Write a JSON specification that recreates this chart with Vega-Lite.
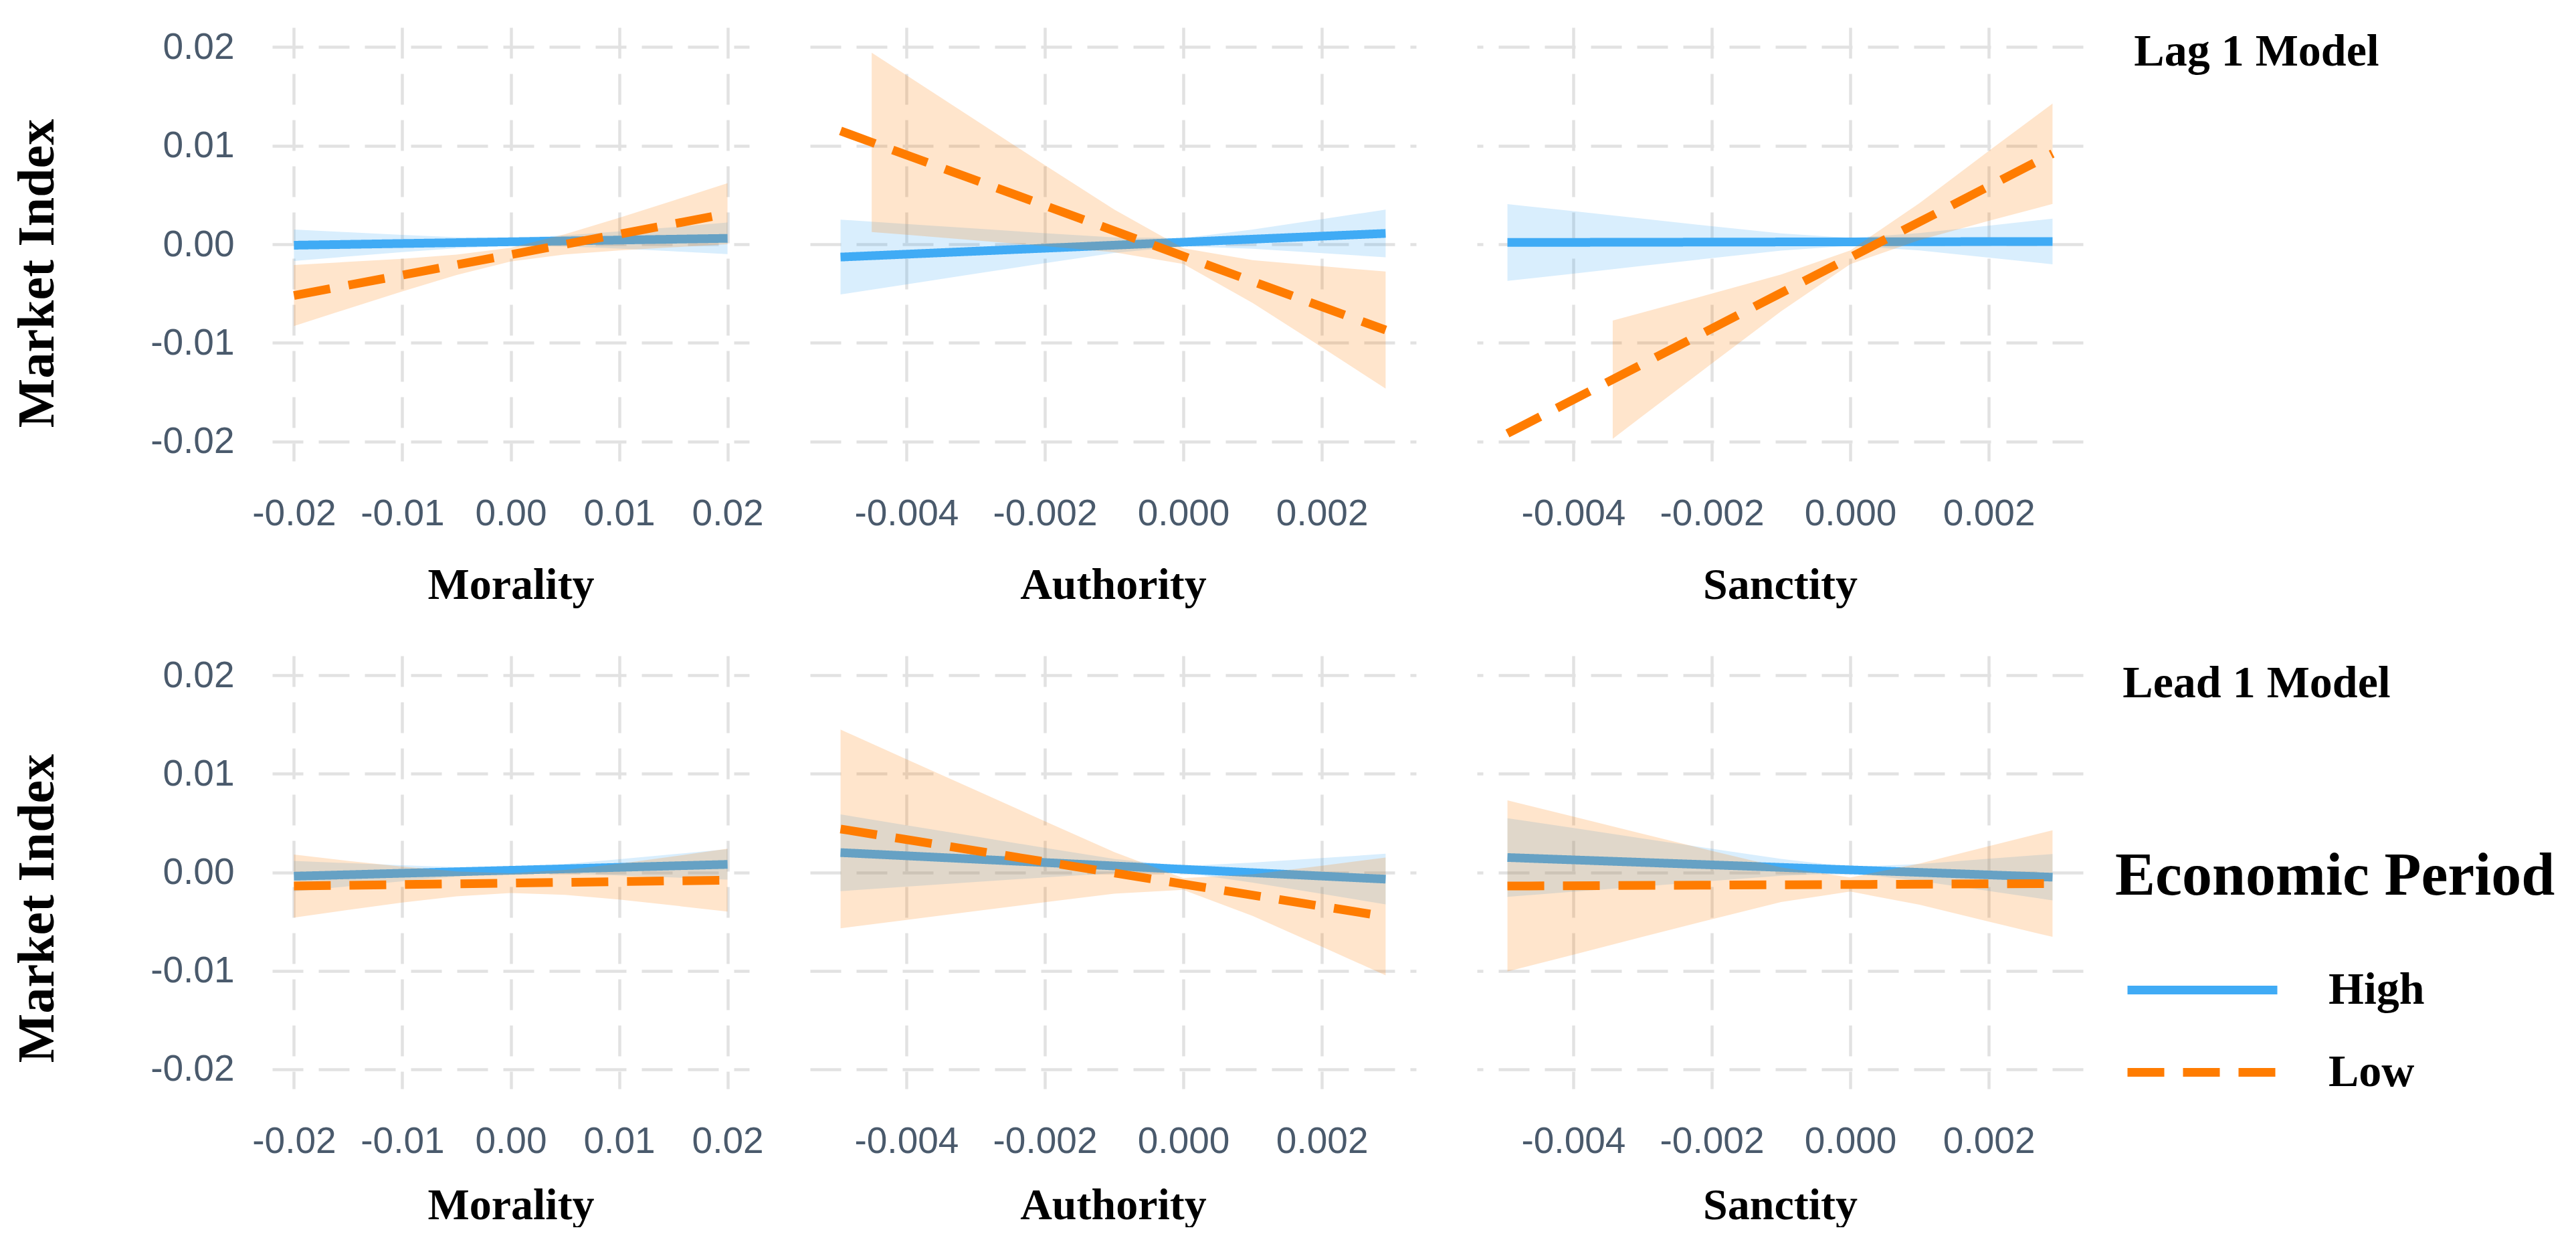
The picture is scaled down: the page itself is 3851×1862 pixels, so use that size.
{
"$schema": "https://vega.github.io/schema/vega-lite/v6.json",
"background": "white",
"padding": {"left": 17, "top": 41, "right": 0, "bottom": 0},
"config": {
 "view": {"stroke": null},
 "axis": {"domain": false, "ticks": false, "tickSize": 0, "grid": true, "gridColor": "#E2E2E2", "gridDash": [46, 23], "gridWidth": 4.5, "labelFont": "Liberation Sans", "labelFontSize": 55, "labelColor": "#4A5A6C", "labelOverlap": false, "labelFlush": false, "titleFont": "Liberation Serif", "titleFontWeight": "bold", "titleColor": "#000000"},
 "axisX": {"labelPadding": 52, "titleFontSize": 66, "titleBaseline": "alphabetic"},
 "axisY": {"labelPadding": 57, "titleFontSize": 78},
 "legend": {"direction": "vertical", "padding": 0, "titleFont": "Liberation Serif", "titleFontSize": 90, "titleFontWeight": "bold", "titleColor": "#000000", "titleLimit": 2000, "titlePadding": 89, "labelFont": "Liberation Serif", "labelFontSize": 68, "labelFontWeight": "bold", "labelColor": "#000000", "labelLimit": 1000, "symbolType": "M-4,0L4,0", "symbolSize": 3136, "symbolStrokeWidth": 13, "symbolOffset": 96, "labelOffset": 154, "rowPadding": 54}
},
"data": {"values": [
{"m":"Lag","v":"Morality","p":"High","k":"line","x":-0.02,"y":-0.0001},
{"m":"Lag","v":"Morality","p":"High","k":"line","x":0.02,"y":0.0006},
{"m":"Lag","v":"Morality","p":"Low","k":"line","x":-0.02,"y":-0.0052},
{"m":"Lag","v":"Morality","p":"Low","k":"line","x":0.02,"y":0.0031},
{"m":"Lag","v":"Authority","p":"High","k":"line","x":-0.00495,"y":-0.0013},
{"m":"Lag","v":"Authority","p":"High","k":"line","x":0.00292,"y":0.0011},
{"m":"Lag","v":"Authority","p":"Low","k":"line","x":-0.00495,"y":0.0115},
{"m":"Lag","v":"Authority","p":"Low","k":"line","x":0.00292,"y":-0.0087},
{"m":"Lag","v":"Sanctity","p":"High","k":"line","x":-0.00495,"y":0.00018},
{"m":"Lag","v":"Sanctity","p":"High","k":"line","x":0.00292,"y":0.00028},
{"m":"Lag","v":"Sanctity","p":"Low","k":"line","x":-0.00495,"y":-0.0192},
{"m":"Lag","v":"Sanctity","p":"Low","k":"line","x":0.00292,"y":0.0092},
{"m":"Lead","v":"Morality","p":"High","k":"line","x":-0.02,"y":-0.0004},
{"m":"Lead","v":"Morality","p":"High","k":"line","x":0.02,"y":0.0008},
{"m":"Lead","v":"Morality","p":"Low","k":"line","x":-0.02,"y":-0.0014},
{"m":"Lead","v":"Morality","p":"Low","k":"line","x":0.02,"y":-0.0008},
{"m":"Lead","v":"Authority","p":"High","k":"line","x":-0.00495,"y":0.002},
{"m":"Lead","v":"Authority","p":"High","k":"line","x":0.00292,"y":-0.0007},
{"m":"Lead","v":"Authority","p":"Low","k":"line","x":-0.00495,"y":0.0044},
{"m":"Lead","v":"Authority","p":"Low","k":"line","x":0.00292,"y":-0.0045},
{"m":"Lead","v":"Sanctity","p":"High","k":"line","x":-0.00495,"y":0.0015},
{"m":"Lead","v":"Sanctity","p":"High","k":"line","x":0.00292,"y":-0.0005},
{"m":"Lead","v":"Sanctity","p":"Low","k":"line","x":-0.00495,"y":-0.0014},
{"m":"Lead","v":"Sanctity","p":"Low","k":"line","x":0.00292,"y":-0.00115},

{"m":"Lag","v":"Morality","p":"High","k":"band","x":-0.02,"y":-0.0017,"y2":0.0015},
{"m":"Lag","v":"Morality","p":"High","k":"band","x":-0.015,"y":-0.00124,"y2":0.00122},
{"m":"Lag","v":"Morality","p":"High","k":"band","x":-0.01,"y":-0.00079,"y2":0.00095},
{"m":"Lag","v":"Morality","p":"High","k":"band","x":-0.005,"y":-0.0004,"y2":0.00072},
{"m":"Lag","v":"Morality","p":"High","k":"band","x":0,"y":-0.00015,"y2":0.00065},
{"m":"Lag","v":"Morality","p":"High","k":"band","x":0.005,"y":-0.00022,"y2":0.0009},
{"m":"Lag","v":"Morality","p":"High","k":"band","x":0.01,"y":-0.00044,"y2":0.0013},
{"m":"Lag","v":"Morality","p":"High","k":"band","x":0.015,"y":-0.00072,"y2":0.00174},
{"m":"Lag","v":"Morality","p":"High","k":"band","x":0.02,"y":-0.001,"y2":0.0022},

{"m":"Lag","v":"Morality","p":"Low","k":"band","x":-0.02,"y":-0.0083,"y2":-0.0021},
{"m":"Lag","v":"Morality","p":"Low","k":"band","x":-0.015,"y":-0.00653,"y2":-0.00179},
{"m":"Lag","v":"Morality","p":"Low","k":"band","x":-0.01,"y":-0.00479,"y2":-0.00147},
{"m":"Lag","v":"Morality","p":"Low","k":"band","x":-0.005,"y":-0.00312,"y2":-0.00106},
{"m":"Lag","v":"Morality","p":"Low","k":"band","x":0,"y":-0.00175,"y2":-0.00035},
{"m":"Lag","v":"Morality","p":"Low","k":"band","x":0.005,"y":-0.00104,"y2":0.00102},
{"m":"Lag","v":"Morality","p":"Low","k":"band","x":0.01,"y":-0.00063,"y2":0.00269},
{"m":"Lag","v":"Morality","p":"Low","k":"band","x":0.015,"y":-0.00031,"y2":0.00443},
{"m":"Lag","v":"Morality","p":"Low","k":"band","x":0.02,"y":0.0,"y2":0.0062},

{"m":"Lag","v":"Authority","p":"High","k":"band","x":-0.00495,"y":-0.0051,"y2":0.0025},
{"m":"Lag","v":"Authority","p":"High","k":"band","x":-0.004,"y":-0.00407,"y2":0.00205},
{"m":"Lag","v":"Authority","p":"High","k":"band","x":-0.003,"y":-0.00299,"y2":0.00159},
{"m":"Lag","v":"Authority","p":"High","k":"band","x":-0.002,"y":-0.00192,"y2":0.00112},
{"m":"Lag","v":"Authority","p":"High","k":"band","x":-0.001,"y":-0.00089,"y2":0.00069},
{"m":"Lag","v":"Authority","p":"High","k":"band","x":0,"y":-0.0002,"y2":0.00062},
{"m":"Lag","v":"Authority","p":"High","k":"band","x":0.001,"y":-0.00045,"y2":0.00149},
{"m":"Lag","v":"Authority","p":"High","k":"band","x":0.002,"y":-0.0009,"y2":0.00254},
{"m":"Lag","v":"Authority","p":"High","k":"band","x":0.00292,"y":-0.00132,"y2":0.00352},

{"m":"Lag","v":"Authority","p":"Low","k":"band","x":-0.0045,"y":0.00124,"y2":0.01944},
{"m":"Lag","v":"Authority","p":"Low","k":"band","x":-0.004,"y":0.00096,"y2":0.01716},
{"m":"Lag","v":"Authority","p":"Low","k":"band","x":-0.003,"y":0.00039,"y2":0.01259},
{"m":"Lag","v":"Authority","p":"Low","k":"band","x":-0.002,"y":-0.00019,"y2":0.00803},
{"m":"Lag","v":"Authority","p":"Low","k":"band","x":-0.001,"y":-0.00081,"y2":0.00353},
{"m":"Lag","v":"Authority","p":"Low","k":"band","x":0,"y":-0.00201,"y2":-0.00041},
{"m":"Lag","v":"Authority","p":"Low","k":"band","x":0.001,"y":-0.00595,"y2":-0.00161},
{"m":"Lag","v":"Authority","p":"Low","k":"band","x":0.002,"y":-0.01045,"y2":-0.00223},
{"m":"Lag","v":"Authority","p":"Low","k":"band","x":0.00292,"y":-0.01465,"y2":-0.00277},

{"m":"Lag","v":"Sanctity","p":"High","k":"band","x":-0.00495,"y":-0.00372,"y2":0.00408},
{"m":"Lag","v":"Sanctity","p":"High","k":"band","x":-0.004,"y":-0.00298,"y2":0.00336},
{"m":"Lag","v":"Sanctity","p":"High","k":"band","x":-0.003,"y":-0.00219,"y2":0.00259},
{"m":"Lag","v":"Sanctity","p":"High","k":"band","x":-0.002,"y":-0.00141,"y2":0.00183},
{"m":"Lag","v":"Sanctity","p":"High","k":"band","x":-0.001,"y":-0.00065,"y2":0.00111},
{"m":"Lag","v":"Sanctity","p":"High","k":"band","x":0,"y":-0.00016,"y2":0.00064},
{"m":"Lag","v":"Sanctity","p":"High","k":"band","x":0.001,"y":-0.00063,"y2":0.00113},
{"m":"Lag","v":"Sanctity","p":"High","k":"band","x":0.002,"y":-0.00135,"y2":0.00189},
{"m":"Lag","v":"Sanctity","p":"High","k":"band","x":0.00292,"y":-0.00203,"y2":0.00259},

{"m":"Lag","v":"Sanctity","p":"Low","k":"band","x":-0.00343,"y":-0.01974,"y2":-0.00774},
{"m":"Lag","v":"Sanctity","p":"Low","k":"band","x":-0.003,"y":-0.01744,"y2":-0.00692},
{"m":"Lag","v":"Sanctity","p":"Low","k":"band","x":-0.002,"y":-0.01211,"y2":-0.00501},
{"m":"Lag","v":"Sanctity","p":"Low","k":"band","x":-0.001,"y":-0.00681,"y2":-0.00307},
{"m":"Lag","v":"Sanctity","p":"Low","k":"band","x":0,"y":-0.00202,"y2":-0.00062},
{"m":"Lag","v":"Sanctity","p":"Low","k":"band","x":0.001,"y":0.00043,"y2":0.00417},
{"m":"Lag","v":"Sanctity","p":"Low","k":"band","x":0.002,"y":0.00237,"y2":0.00947},
{"m":"Lag","v":"Sanctity","p":"Low","k":"band","x":0.00292,"y":0.00409,"y2":0.01427},

{"m":"Lead","v":"Morality","p":"High","k":"band","x":-0.02,"y":-0.00195,"y2":0.00115},
{"m":"Lead","v":"Morality","p":"High","k":"band","x":-0.015,"y":-0.00143,"y2":0.00093},
{"m":"Lead","v":"Morality","p":"High","k":"band","x":-0.01,"y":-0.00092,"y2":0.00072},
{"m":"Lead","v":"Morality","p":"High","k":"band","x":-0.005,"y":-0.00043,"y2":0.00053},
{"m":"Lead","v":"Morality","p":"High","k":"band","x":0,"y":-0.0001,"y2":0.0005},
{"m":"Lead","v":"Morality","p":"High","k":"band","x":0.005,"y":-0.00013,"y2":0.00083},
{"m":"Lead","v":"Morality","p":"High","k":"band","x":0.01,"y":-0.00032,"y2":0.00132},
{"m":"Lead","v":"Morality","p":"High","k":"band","x":0.015,"y":-0.00053,"y2":0.00183},
{"m":"Lead","v":"Morality","p":"High","k":"band","x":0.02,"y":-0.00075,"y2":0.00235},

{"m":"Lead","v":"Morality","p":"Low","k":"band","x":-0.02,"y":-0.0046,"y2":0.0018},
{"m":"Lead","v":"Morality","p":"Low","k":"band","x":-0.015,"y":-0.00382,"y2":0.00116},
{"m":"Lead","v":"Morality","p":"Low","k":"band","x":-0.01,"y":-0.00307,"y2":0.00057},
{"m":"Lead","v":"Morality","p":"Low","k":"band","x":-0.005,"y":-0.00244,"y2":0.00008},
{"m":"Lead","v":"Morality","p":"Low","k":"band","x":0,"y":-0.0021,"y2":-0.0001},
{"m":"Lead","v":"Morality","p":"Low","k":"band","x":0.005,"y":-0.00229,"y2":0.00023},
{"m":"Lead","v":"Morality","p":"Low","k":"band","x":0.01,"y":-0.00277,"y2":0.00087},
{"m":"Lead","v":"Morality","p":"Low","k":"band","x":0.015,"y":-0.00337,"y2":0.00161},
{"m":"Lead","v":"Morality","p":"Low","k":"band","x":0.02,"y":-0.004,"y2":0.0024},

{"m":"Lead","v":"Authority","p":"High","k":"band","x":-0.00495,"y":-0.00192,"y2":0.00588},
{"m":"Lead","v":"Authority","p":"High","k":"band","x":-0.004,"y":-0.00146,"y2":0.00478},
{"m":"Lead","v":"Authority","p":"High","k":"band","x":-0.003,"y":-0.00099,"y2":0.00363},
{"m":"Lead","v":"Authority","p":"High","k":"band","x":-0.002,"y":-0.00052,"y2":0.00248},
{"m":"Lead","v":"Authority","p":"High","k":"band","x":-0.001,"y":-0.00008,"y2":0.00136},
{"m":"Lead","v":"Authority","p":"High","k":"band","x":0,"y":-0.00004,"y2":0.00064},
{"m":"Lead","v":"Authority","p":"High","k":"band","x":0.001,"y":-0.00106,"y2":0.00098},
{"m":"Lead","v":"Authority","p":"High","k":"band","x":0.002,"y":-0.0022,"y2":0.00144},
{"m":"Lead","v":"Authority","p":"High","k":"band","x":0.00292,"y":-0.00326,"y2":0.00188},

{"m":"Lead","v":"Authority","p":"Low","k":"band","x":-0.00495,"y":-0.0057,"y2":0.0145},
{"m":"Lead","v":"Authority","p":"Low","k":"band","x":-0.004,"y":-0.00484,"y2":0.0115},
{"m":"Lead","v":"Authority","p":"Low","k":"band","x":-0.003,"y":-0.00394,"y2":0.00834},
{"m":"Lead","v":"Authority","p":"Low","k":"band","x":-0.002,"y":-0.00305,"y2":0.00519},
{"m":"Lead","v":"Authority","p":"Low","k":"band","x":-0.001,"y":-0.00218,"y2":0.00206},
{"m":"Lead","v":"Authority","p":"Low","k":"band","x":0,"y":-0.00179,"y2":-0.00059},
{"m":"Lead","v":"Authority","p":"Low","k":"band","x":0.001,"y":-0.00444,"y2":-0.0002},
{"m":"Lead","v":"Authority","p":"Low","k":"band","x":0.002,"y":-0.00757,"y2":0.00067},
{"m":"Lead","v":"Authority","p":"Low","k":"band","x":0.00292,"y":-0.01047,"y2":0.00149},

{"m":"Lead","v":"Sanctity","p":"High","k":"band","x":-0.00495,"y":-0.0025,"y2":0.0055},
{"m":"Lead","v":"Sanctity","p":"High","k":"band","x":-0.004,"y":-0.00198,"y2":0.0045},
{"m":"Lead","v":"Sanctity","p":"High","k":"band","x":-0.003,"y":-0.00144,"y2":0.00344},
{"m":"Lead","v":"Sanctity","p":"High","k":"band","x":-0.002,"y":-0.00089,"y2":0.00239},
{"m":"Lead","v":"Sanctity","p":"High","k":"band","x":-0.001,"y":-0.00036,"y2":0.00136},
{"m":"Lead","v":"Sanctity","p":"High","k":"band","x":0,"y":-0.00006,"y2":0.00054},
{"m":"Lead","v":"Sanctity","p":"High","k":"band","x":0.001,"y":-0.00088,"y2":0.00084},
{"m":"Lead","v":"Sanctity","p":"High","k":"band","x":0.002,"y":-0.00191,"y2":0.00137},
{"m":"Lead","v":"Sanctity","p":"High","k":"band","x":0.00292,"y":-0.00286,"y2":0.00186},

{"m":"Lead","v":"Sanctity","p":"Low","k":"band","x":-0.00495,"y":-0.01009,"y2":0.00731},
{"m":"Lead","v":"Sanctity","p":"Low","k":"band","x":-0.004,"y":-0.00838,"y2":0.00566},
{"m":"Lead","v":"Sanctity","p":"Low","k":"band","x":-0.003,"y":-0.00657,"y2":0.00391},
{"m":"Lead","v":"Sanctity","p":"Low","k":"band","x":-0.002,"y":-0.00478,"y2":0.00218},
{"m":"Lead","v":"Sanctity","p":"Low","k":"band","x":-0.001,"y":-0.00303,"y2":0.00049},
{"m":"Lead","v":"Sanctity","p":"Low","k":"band","x":0,"y":-0.00196,"y2":-0.00052},
{"m":"Lead","v":"Sanctity","p":"Low","k":"band","x":0.001,"y":-0.0033,"y2":0.00088},
{"m":"Lead","v":"Sanctity","p":"Low","k":"band","x":0.002,"y":-0.00501,"y2":0.00265},
{"m":"Lead","v":"Sanctity","p":"Low","k":"band","x":0.00292,"y":-0.00657,"y2":0.00427}
]},
"columns": 3,
"bounds": "flush",
"spacing": {"row": 291, "column": 91},
"concat": [
 {"width": 713, "height": 648,
  "transform": [{"filter": "datum.m == 'Lag' && datum.v == 'Morality'"}],
  "encoding": {
   "x": {"field": "x", "type": "quantitative", "title": "Morality", "scale": {"domain": [-0.022, 0.022], "nice": false, "zero": false}, "axis": {"values": [-0.02, -0.01, 0, 0.01, 0.02], "titleY": 205, "labelExpr": "(datum.value < 0 ? '-' : '') + format(abs(datum.value), '.2f')"}},
   "y": {"field": "y", "type": "quantitative", "title": "Market Index", "scale": {"domain": [-0.022, 0.022], "nice": false, "zero": false}, "axis": {"values": [-0.02, -0.01, 0, 0.01, 0.02], "labelExpr": "(datum.value < 0 ? '-' : '') + format(abs(datum.value), '.2f')", "titleAngle": 270, "titleBaseline": "alphabetic", "titleAlign": "center", "titleX": -328, "titleY": 367}}
  },
  "layer": [
   {"transform": [{"filter": "datum.k == 'band' && datum.p == 'High'"}], "mark": {"type": "area", "color": "#40ABF5", "opacity": 0.2}, "encoding": {"y2": {"field": "y2"}}},
   {"transform": [{"filter": "datum.k == 'line' && datum.p == 'High'"}], "mark": {"type": "line", "strokeWidth": 13}, "encoding": {"color": {"field": "p", "type": "nominal", "title": "Economic Period", "scale": {"domain": ["High", "Low"], "range": ["#40ABF5", "#FF7C00"]}, "legend": {"orient": "none", "legendX": 2755, "legendY": 1225}}, "strokeDash": {"field": "p", "type": "nominal", "title": "Economic Period", "scale": {"domain": ["High", "Low"], "range": [[1, 0], [55, 28]]}, "legend": {"orient": "none", "legendX": 2755, "legendY": 1225}}}},
   {"transform": [{"filter": "datum.k == 'band' && datum.p == 'Low'"}], "mark": {"type": "area", "color": "#FF7C00", "opacity": 0.2}, "encoding": {"y2": {"field": "y2"}}},
   {"transform": [{"filter": "datum.k == 'line' && datum.p == 'Low'"}], "mark": {"type": "line", "strokeWidth": 13}, "encoding": {"color": {"field": "p", "type": "nominal", "title": "Economic Period", "scale": {"domain": ["High", "Low"], "range": ["#40ABF5", "#FF7C00"]}, "legend": {"orient": "none", "legendX": 2755, "legendY": 1225}}, "strokeDash": {"field": "p", "type": "nominal", "title": "Economic Period", "scale": {"domain": ["High", "Low"], "range": [[1, 0], [55, 28]]}, "legend": {"orient": "none", "legendX": 2755, "legendY": 1225}}}}
  ]
 },
 {"width": 906, "height": 648,
  "transform": [{"filter": "datum.m == 'Lag' && datum.v == 'Authority'"}],
  "encoding": {
   "x": {"field": "x", "type": "quantitative", "title": "Authority", "scale": {"domain": [-0.00539, 0.00336], "nice": false, "zero": false}, "axis": {"values": [-0.004, -0.002, 0, 0.002], "titleY": 205, "labelExpr": "(datum.value < 0 ? '-' : '') + format(abs(datum.value), '.3f')"}},
   "y": {"field": "y", "type": "quantitative", "title": null, "scale": {"domain": [-0.022, 0.022], "nice": false, "zero": false}, "axis": {"values": [-0.02, -0.01, 0, 0.01, 0.02], "labels": false}}
  },
  "layer": [
   {"transform": [{"filter": "datum.k == 'band' && datum.p == 'High'"}], "mark": {"type": "area", "color": "#40ABF5", "opacity": 0.2}, "encoding": {"y2": {"field": "y2"}}},
   {"transform": [{"filter": "datum.k == 'line' && datum.p == 'High'"}], "mark": {"type": "line", "strokeWidth": 13}, "encoding": {"color": {"field": "p", "type": "nominal", "title": "Economic Period", "scale": {"domain": ["High", "Low"], "range": ["#40ABF5", "#FF7C00"]}, "legend": {"orient": "none", "legendX": 2755, "legendY": 1225}}, "strokeDash": {"field": "p", "type": "nominal", "title": "Economic Period", "scale": {"domain": ["High", "Low"], "range": [[1, 0], [55, 28]]}, "legend": {"orient": "none", "legendX": 2755, "legendY": 1225}}}},
   {"transform": [{"filter": "datum.k == 'band' && datum.p == 'Low'"}], "mark": {"type": "area", "color": "#FF7C00", "opacity": 0.2}, "encoding": {"y2": {"field": "y2"}}},
   {"transform": [{"filter": "datum.k == 'line' && datum.p == 'Low'"}], "mark": {"type": "line", "strokeWidth": 13}, "encoding": {"color": {"field": "p", "type": "nominal", "title": "Economic Period", "scale": {"domain": ["High", "Low"], "range": ["#40ABF5", "#FF7C00"]}, "legend": {"orient": "none", "legendX": 2755, "legendY": 1225}}, "strokeDash": {"field": "p", "type": "nominal", "title": "Economic Period", "scale": {"domain": ["High", "Low"], "range": [[1, 0], [55, 28]]}, "legend": {"orient": "none", "legendX": 2755, "legendY": 1225}}}}
  ]
 },
 {"width": 906, "height": 648,
  "transform": [{"filter": "datum.m == 'Lag' && datum.v == 'Sanctity'"}],
  "encoding": {
   "x": {"field": "x", "type": "quantitative", "title": "Sanctity", "scale": {"domain": [-0.00539, 0.00336], "nice": false, "zero": false}, "axis": {"values": [-0.004, -0.002, 0, 0.002], "titleY": 205, "labelExpr": "(datum.value < 0 ? '-' : '') + format(abs(datum.value), '.3f')"}},
   "y": {"field": "y", "type": "quantitative", "title": "Lag 1 Model", "scale": {"domain": [-0.022, 0.022], "nice": false, "zero": false}, "axis": {"values": [-0.02, -0.01, 0, 0.01, 0.02], "labels": false, "orient": "right", "titleAngle": 0, "titleAlign": "center", "titleBaseline": "alphabetic", "titleX": 259, "titleY": 56, "titleFontSize": 68}}
  },
  "layer": [
   {"transform": [{"filter": "datum.k == 'band' && datum.p == 'High'"}], "mark": {"type": "area", "color": "#40ABF5", "opacity": 0.2}, "encoding": {"y2": {"field": "y2"}}},
   {"transform": [{"filter": "datum.k == 'line' && datum.p == 'High'"}], "mark": {"type": "line", "strokeWidth": 13}, "encoding": {"color": {"field": "p", "type": "nominal", "title": "Economic Period", "scale": {"domain": ["High", "Low"], "range": ["#40ABF5", "#FF7C00"]}, "legend": {"orient": "none", "legendX": 2755, "legendY": 1225}}, "strokeDash": {"field": "p", "type": "nominal", "title": "Economic Period", "scale": {"domain": ["High", "Low"], "range": [[1, 0], [55, 28]]}, "legend": {"orient": "none", "legendX": 2755, "legendY": 1225}}}},
   {"transform": [{"filter": "datum.k == 'band' && datum.p == 'Low'"}], "mark": {"type": "area", "color": "#FF7C00", "opacity": 0.2}, "encoding": {"y2": {"field": "y2"}}},
   {"transform": [{"filter": "datum.k == 'line' && datum.p == 'Low'"}], "mark": {"type": "line", "strokeWidth": 13}, "encoding": {"color": {"field": "p", "type": "nominal", "title": "Economic Period", "scale": {"domain": ["High", "Low"], "range": ["#40ABF5", "#FF7C00"]}, "legend": {"orient": "none", "legendX": 2755, "legendY": 1225}}, "strokeDash": {"field": "p", "type": "nominal", "title": "Economic Period", "scale": {"domain": ["High", "Low"], "range": [[1, 0], [55, 28]]}, "legend": {"orient": "none", "legendX": 2755, "legendY": 1225}}}}
  ]
 },
 {"width": 713, "height": 647,
  "transform": [{"filter": "datum.m == 'Lead' && datum.v == 'Morality'"}],
  "encoding": {
   "x": {"field": "x", "type": "quantitative", "title": "Morality", "scale": {"domain": [-0.022, 0.022], "nice": false, "zero": false}, "axis": {"values": [-0.02, -0.01, 0, 0.01, 0.02], "titleY": 194, "labelExpr": "(datum.value < 0 ? '-' : '') + format(abs(datum.value), '.2f')"}},
   "y": {"field": "y", "type": "quantitative", "title": "Market Index", "scale": {"domain": [-0.022, 0.022], "nice": false, "zero": false}, "axis": {"values": [-0.02, -0.01, 0, 0.01, 0.02], "labelExpr": "(datum.value < 0 ? '-' : '') + format(abs(datum.value), '.2f')", "titleAngle": 270, "titleBaseline": "alphabetic", "titleAlign": "center", "titleX": -328, "titleY": 377}}
  },
  "layer": [
   {"transform": [{"filter": "datum.k == 'band' && datum.p == 'High'"}], "mark": {"type": "area", "color": "#40ABF5", "opacity": 0.2}, "encoding": {"y2": {"field": "y2"}}},
   {"transform": [{"filter": "datum.k == 'line' && datum.p == 'High'"}], "mark": {"type": "line", "strokeWidth": 13}, "encoding": {"color": {"field": "p", "type": "nominal", "title": "Economic Period", "scale": {"domain": ["High", "Low"], "range": ["#40ABF5", "#FF7C00"]}, "legend": {"orient": "none", "legendX": 2755, "legendY": 1225}}, "strokeDash": {"field": "p", "type": "nominal", "title": "Economic Period", "scale": {"domain": ["High", "Low"], "range": [[1, 0], [55, 28]]}, "legend": {"orient": "none", "legendX": 2755, "legendY": 1225}}}},
   {"transform": [{"filter": "datum.k == 'band' && datum.p == 'Low'"}], "mark": {"type": "area", "color": "#FF7C00", "opacity": 0.2}, "encoding": {"y2": {"field": "y2"}}},
   {"transform": [{"filter": "datum.k == 'line' && datum.p == 'Low'"}], "mark": {"type": "line", "strokeWidth": 13}, "encoding": {"color": {"field": "p", "type": "nominal", "title": "Economic Period", "scale": {"domain": ["High", "Low"], "range": ["#40ABF5", "#FF7C00"]}, "legend": {"orient": "none", "legendX": 2755, "legendY": 1225}}, "strokeDash": {"field": "p", "type": "nominal", "title": "Economic Period", "scale": {"domain": ["High", "Low"], "range": [[1, 0], [55, 28]]}, "legend": {"orient": "none", "legendX": 2755, "legendY": 1225}}}}
  ]
 },
 {"width": 906, "height": 647,
  "transform": [{"filter": "datum.m == 'Lead' && datum.v == 'Authority'"}],
  "encoding": {
   "x": {"field": "x", "type": "quantitative", "title": "Authority", "scale": {"domain": [-0.00539, 0.00336], "nice": false, "zero": false}, "axis": {"values": [-0.004, -0.002, 0, 0.002], "titleY": 194, "labelExpr": "(datum.value < 0 ? '-' : '') + format(abs(datum.value), '.3f')"}},
   "y": {"field": "y", "type": "quantitative", "title": null, "scale": {"domain": [-0.022, 0.022], "nice": false, "zero": false}, "axis": {"values": [-0.02, -0.01, 0, 0.01, 0.02], "labels": false}}
  },
  "layer": [
   {"transform": [{"filter": "datum.k == 'band' && datum.p == 'High'"}], "mark": {"type": "area", "color": "#40ABF5", "opacity": 0.2}, "encoding": {"y2": {"field": "y2"}}},
   {"transform": [{"filter": "datum.k == 'line' && datum.p == 'High'"}], "mark": {"type": "line", "strokeWidth": 13}, "encoding": {"color": {"field": "p", "type": "nominal", "title": "Economic Period", "scale": {"domain": ["High", "Low"], "range": ["#40ABF5", "#FF7C00"]}, "legend": {"orient": "none", "legendX": 2755, "legendY": 1225}}, "strokeDash": {"field": "p", "type": "nominal", "title": "Economic Period", "scale": {"domain": ["High", "Low"], "range": [[1, 0], [55, 28]]}, "legend": {"orient": "none", "legendX": 2755, "legendY": 1225}}}},
   {"transform": [{"filter": "datum.k == 'band' && datum.p == 'Low'"}], "mark": {"type": "area", "color": "#FF7C00", "opacity": 0.2}, "encoding": {"y2": {"field": "y2"}}},
   {"transform": [{"filter": "datum.k == 'line' && datum.p == 'Low'"}], "mark": {"type": "line", "strokeWidth": 13}, "encoding": {"color": {"field": "p", "type": "nominal", "title": "Economic Period", "scale": {"domain": ["High", "Low"], "range": ["#40ABF5", "#FF7C00"]}, "legend": {"orient": "none", "legendX": 2755, "legendY": 1225}}, "strokeDash": {"field": "p", "type": "nominal", "title": "Economic Period", "scale": {"domain": ["High", "Low"], "range": [[1, 0], [55, 28]]}, "legend": {"orient": "none", "legendX": 2755, "legendY": 1225}}}}
  ]
 },
 {"width": 906, "height": 647,
  "transform": [{"filter": "datum.m == 'Lead' && datum.v == 'Sanctity'"}],
  "encoding": {
   "x": {"field": "x", "type": "quantitative", "title": "Sanctity", "scale": {"domain": [-0.00539, 0.00336], "nice": false, "zero": false}, "axis": {"values": [-0.004, -0.002, 0, 0.002], "titleY": 194, "labelExpr": "(datum.value < 0 ? '-' : '') + format(abs(datum.value), '.3f')"}},
   "y": {"field": "y", "type": "quantitative", "title": "Lead 1 Model", "scale": {"domain": [-0.022, 0.022], "nice": false, "zero": false}, "axis": {"values": [-0.02, -0.01, 0, 0.01, 0.02], "labels": false, "orient": "right", "titleAngle": 0, "titleAlign": "center", "titleBaseline": "alphabetic", "titleX": 259, "titleY": 61, "titleFontSize": 68}}
  },
  "layer": [
   {"transform": [{"filter": "datum.k == 'band' && datum.p == 'High'"}], "mark": {"type": "area", "color": "#40ABF5", "opacity": 0.2}, "encoding": {"y2": {"field": "y2"}}},
   {"transform": [{"filter": "datum.k == 'line' && datum.p == 'High'"}], "mark": {"type": "line", "strokeWidth": 13}, "encoding": {"color": {"field": "p", "type": "nominal", "title": "Economic Period", "scale": {"domain": ["High", "Low"], "range": ["#40ABF5", "#FF7C00"]}, "legend": {"orient": "none", "legendX": 2755, "legendY": 1225}}, "strokeDash": {"field": "p", "type": "nominal", "title": "Economic Period", "scale": {"domain": ["High", "Low"], "range": [[1, 0], [55, 28]]}, "legend": {"orient": "none", "legendX": 2755, "legendY": 1225}}}},
   {"transform": [{"filter": "datum.k == 'band' && datum.p == 'Low'"}], "mark": {"type": "area", "color": "#FF7C00", "opacity": 0.2}, "encoding": {"y2": {"field": "y2"}}},
   {"transform": [{"filter": "datum.k == 'line' && datum.p == 'Low'"}], "mark": {"type": "line", "strokeWidth": 13}, "encoding": {"color": {"field": "p", "type": "nominal", "title": "Economic Period", "scale": {"domain": ["High", "Low"], "range": ["#40ABF5", "#FF7C00"]}, "legend": {"orient": "none", "legendX": 2755, "legendY": 1225}}, "strokeDash": {"field": "p", "type": "nominal", "title": "Economic Period", "scale": {"domain": ["High", "Low"], "range": [[1, 0], [55, 28]]}, "legend": {"orient": "none", "legendX": 2755, "legendY": 1225}}}}
  ]
 }
]
}
